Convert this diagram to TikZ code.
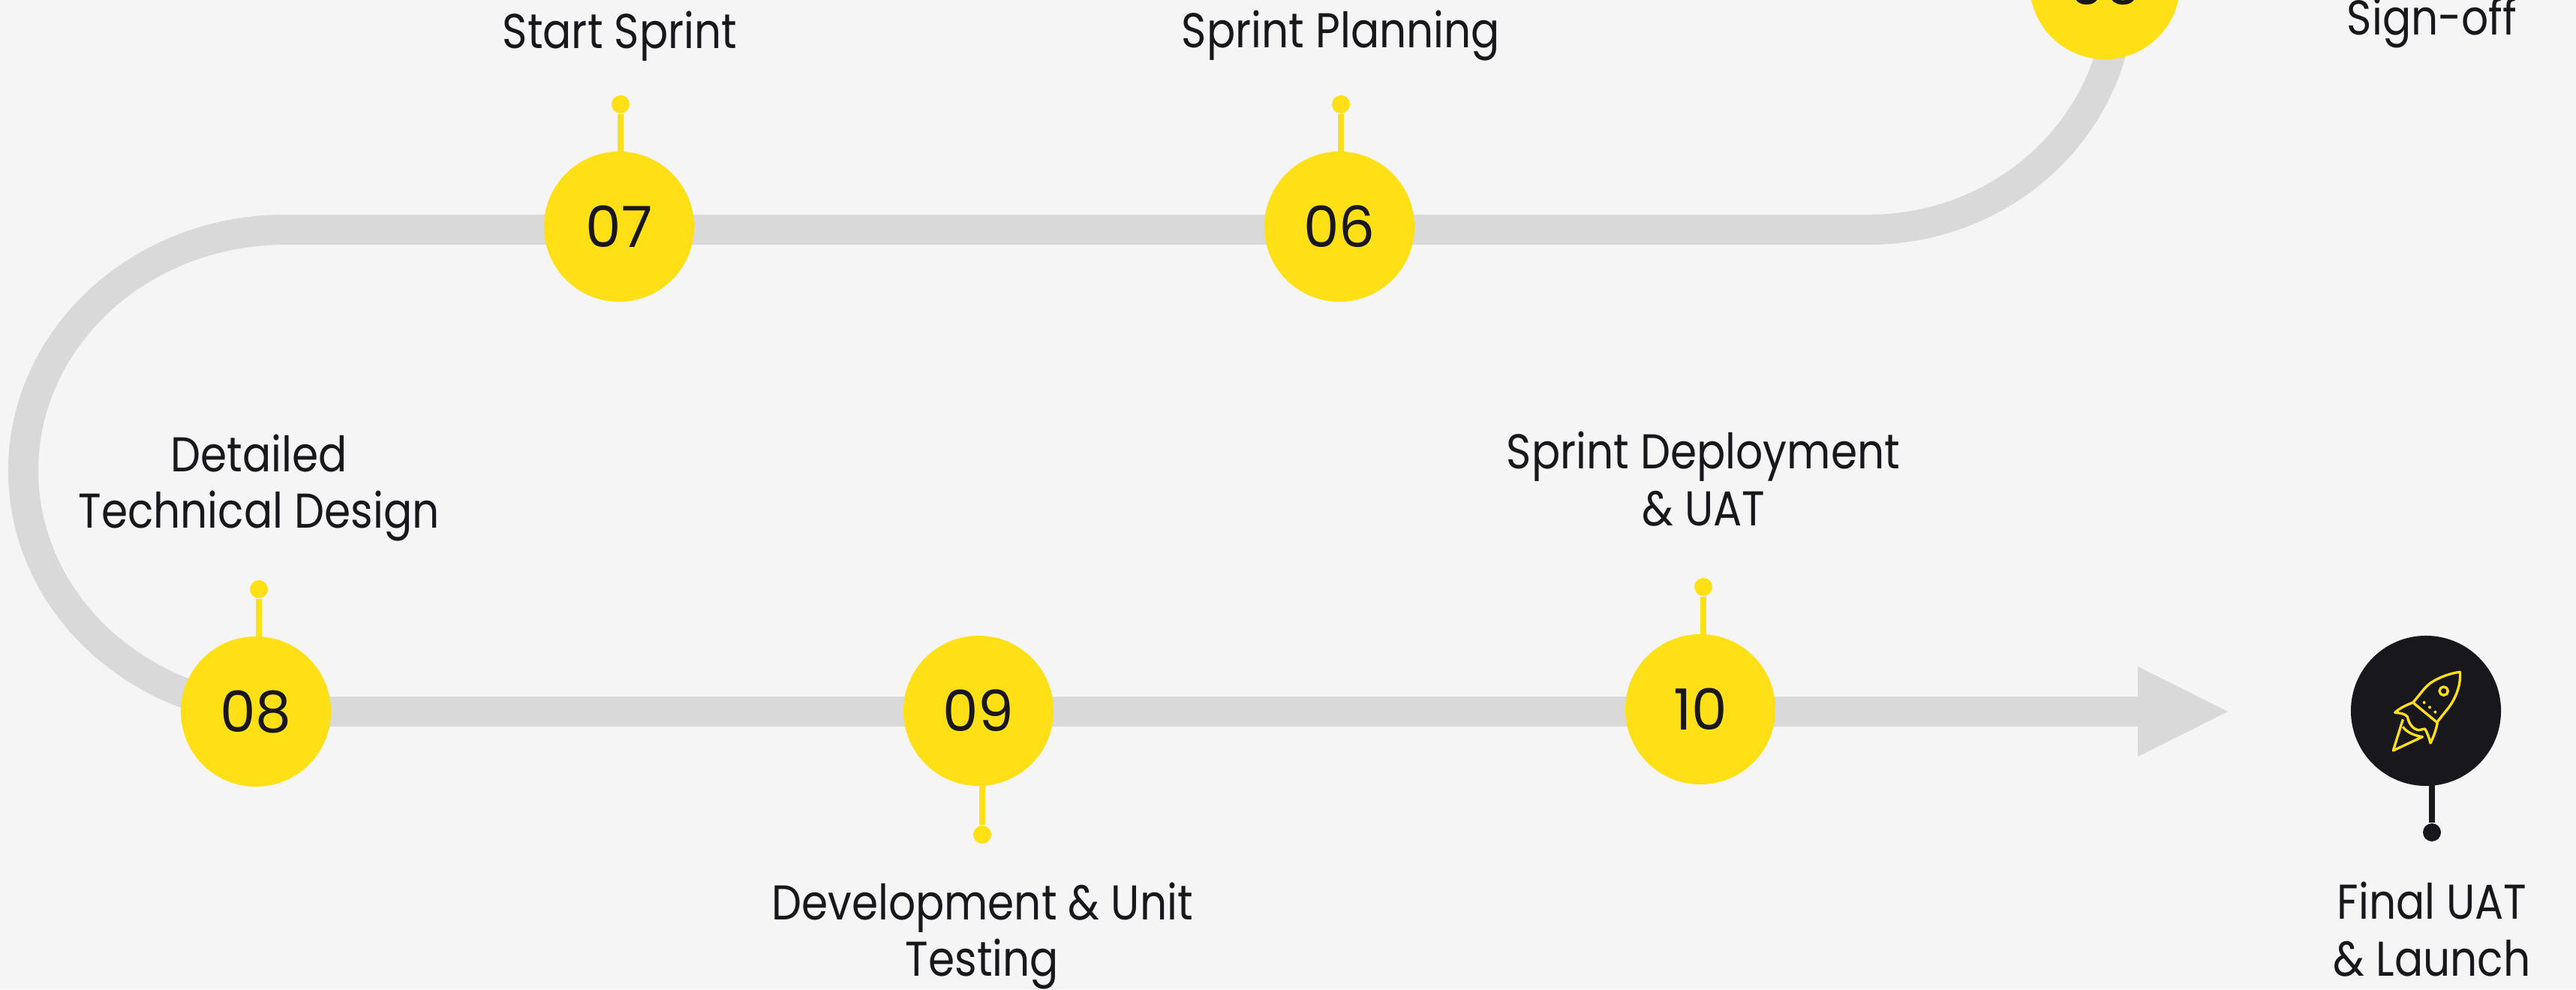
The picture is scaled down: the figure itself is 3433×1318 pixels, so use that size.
\documentclass[tikz,border=0pt]{standalone}
\usepackage{fontspec}
\setmainfont{Poppins}[FakeStretch=0.87]
\newfontfamily\digitfont{Poppins}
\usetikzlibrary{backgrounds}
\definecolor{pagebg}{HTML}{F5F5F5}
\definecolor{trackgray}{HTML}{D9D9D9}
\definecolor{sunyellow}{HTML}{FFDF15}
\definecolor{inkblack}{HTML}{18171C}
\tikzset{
  stepdot/.style={circle,fill=sunyellow,text=inkblack,minimum size=2cm,inner sep=0pt,font=\digitfont\fontsize{21.5}{23}\selectfont},
  enddot/.style={stepdot,fill=inkblack},
  pinhead/.style={circle,fill=sunyellow,minimum size=0.24cm,inner sep=0pt},
  endhead/.style={pinhead,fill=inkblack},
  pinline/.style={draw=sunyellow,line width=2.2pt},
  endline/.style={draw=inkblack,line width=2.2pt},
  track/.style={draw=trackgray,line width=11.4pt},
  steplabel/.style={text=inkblack,align=center,font=\fontsize{18.5}{21.6}\selectfont},
  rocket/.style={draw=sunyellow,line width=0.95pt,line join=round}
}
\begin{document}
\begin{tikzpicture}[x=0.01cm,y=-0.01cm]
   \useasboundingbox (0,0) rectangle (3433,1318);
   % steps
   \node[stepdot] (s05) at (2805,-21) {05};
   \node[stepdot] (s06) at (1785,302) {06};
   \node[stepdot] (s07) at (825,302) {07};
   \node[stepdot] (s08) at (341,948) {08};
   \node[stepdot] (s09) at (1304,947) {09};
   \node[stepdot] (s10) at (2266,945) {10};
   \node[enddot] (s11) at (3233,947) {};
   % pins
   \node[pinhead] (p06) at (1787,139) {};
   \node[pinhead] (p07) at (827,139) {};
   \node[pinhead] (p08) at (345,785) {};
   \node[pinhead] (p09) at (1309,1112) {};
   \node[pinhead] (p10) at (2270,782) {};
   \node[endhead] (p11) at (3241,1109) {};
   % labels
   \node[steplabel] (t05) at (3241,30) {Sign-off};
   \node[steplabel] (t06) at (1787,48) {Sprint Planning};
   \node[steplabel] (t07) at (826,48) {Start Sprint};
   \node[steplabel] (t08) at (345,650) {Detailed\\Technical Design};
   \node[steplabel] (t09) at (1309,1247) {Development \& Unit\\Testing};
   \node[steplabel] (t10) at (2270,638) {Sprint Deployment\\\& UAT};
   \node[steplabel] (t11) at (3241,1238) {Final UAT\\\& Launch};
   % track
   \begin{scope}[on background layer]
     \fill[pagebg] (0,0) rectangle (3433,1318);
     \coordinate (bendL) at (380,306);
     \draw[track] (s05.center) ++(20,7) arc[start angle=0,end angle=90,x radius=335,y radius=320]
       -- (bendL) arc[start angle=-90,end angle=-270,x radius=349,y radius=321]
       -- (s08.center);
     \coordinate (tail) at (2860,948);
     \coordinate (headtop) at (2849,888);
     \coordinate (headlow) at (2849,1008);
     \coordinate (tip) at (2969,948);
     \draw[track] (s08.center) -- (tail);
     \fill[trackgray] (headtop) -- (tip) -- (headlow) -- cycle;
     \draw[pinline] (p06) -- (p06 |- s06.center);
     \draw[pinline] (p07) -- (p07 |- s07.center);
     \draw[pinline] (p08) -- (p08 |- s08.center);
     \draw[pinline] (p09) -- (p09 |- s09.center);
     \draw[pinline] (p10) -- (p10 |- s10.center);
     \draw[endline] (p11) -- (p11 |- s11.center);
   \end{scope}
   % rocket
   \begin{scope}[shift={(3050,800)},x=0.01cm/3,y=-0.01cm/3]
     \draw[rocket] (497,408) .. controls (530,370) and (545,345) .. (570,328)
       .. controls (605,305) and (650,290) .. (685,286)
       .. controls (690,340) and (665,395) .. (640,428) -- (593,487) -- cycle;
     \draw[rocket] (497,408) .. controls (470,418) and (445,430) .. (425,448)
       .. controls (445,450) and (465,452) .. (475,465)
       .. controls (480,490) and (495,515) .. (520,518)
       -- (545,513) .. controls (555,530) and (562,550) .. (567,570)
       .. controls (580,545) and (590,515) .. (595,488);
     \draw[rocket] (457,475) -- (418,600) -- (535,545)
       .. controls (500,540) and (470,525) .. (457,505);
     \draw[rocket] (620,362) circle[x radius=17,y radius=17];
     \fill[sunyellow] (542,408) circle[x radius=6,y radius=6];
     \fill[sunyellow] (564,427) circle[x radius=6,y radius=6];
     \fill[sunyellow] (586,446) circle[x radius=6,y radius=6];
   \end{scope}
\end{tikzpicture}
\end{document}
